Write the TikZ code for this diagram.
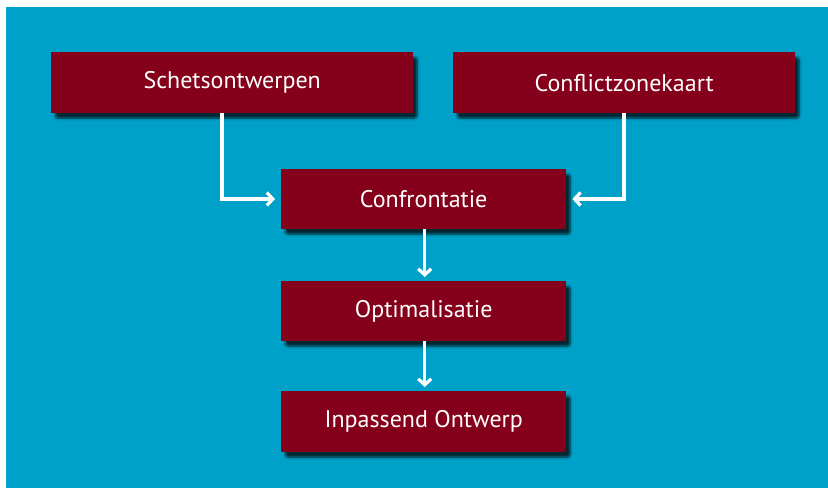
\documentclass[tikz,border=0pt]{standalone}
\usepackage{fontspec}
\setmainfont{PT Sans}
\usetikzlibrary{arrows.meta,shadows.blur}
\definecolor{bgblue}{RGB}{0,161,200}
\definecolor{boxred}{RGB}{133,0,26}
\tikzset{
  stepbox/.style={fill=boxred, text=white, font=\fontsize{24}{28}\selectfont,
    inner sep=0pt, anchor=north west,
    blur shadow={shadow xshift=4pt, shadow yshift=-5pt, shadow blur steps=10, shadow blur extra rounding=3pt, shadow opacity=75}},
  flow/.style={white, line width=3.2pt, -{Straight Barb[length=6pt,width=13pt,line width=3.2pt]}}
}
\begin{document}
\begin{tikzpicture}[x=1pt,y=-1pt]
\useasboundingbox (0,0) rectangle (828,488);
\fill[white] (0,0) rectangle (828,488);
\fill[bgblue] (6,7) rectangle (828,488);
\node[stepbox, minimum width=362pt, minimum height=61pt] (schets) at (51,52) {Schetsontwerpen};
\node[stepbox, minimum width=342pt, minimum height=61pt] (conflict) at (453,52) {Conflictzonekaart};
\node[stepbox, minimum width=285pt, minimum height=60pt] (confr) at (281,169) {Confrontatie};
\node[stepbox, minimum width=285pt, minimum height=60pt] (optim) at (281,281) {Optimalisatie};
\node[stepbox, minimum width=285pt, minimum height=61pt] (inpas) at (281,391) {Inpassend Ontwerp};
\coordinate (c1) at (222,199);
\coordinate (c2) at (624,199);
\draw[flow] (schets.south -| c1) -- (c1) -- ([xshift=-6pt]confr.west |- c1);
\draw[flow] (conflict.south -| c2) -- (c2) -- ([xshift=6pt]confr.east |- c2);
\draw[flow] ([xshift=1pt]confr.south) -- ([xshift=1pt,yshift=4pt]optim.north);
\draw[flow] ([xshift=1pt]optim.south) -- ([xshift=1pt,yshift=4pt]inpas.north);
\end{tikzpicture}
\end{document}
